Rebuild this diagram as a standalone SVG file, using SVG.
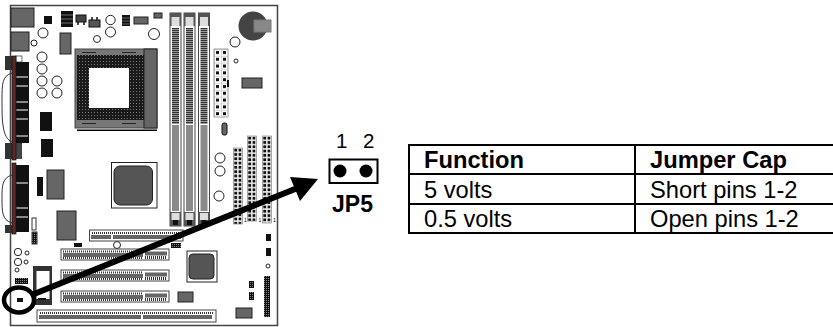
<svg xmlns="http://www.w3.org/2000/svg" width="833" height="327" viewBox="0 0 833 327">
<style>
text{font-family:"Liberation Sans",Arial,sans-serif;fill:#000}
.t{font-size:23.7px}
.b{font-weight:bold}
.g{fill:#666;stroke:#222;stroke-width:1}
.c{fill:#fff;stroke:#222;stroke-width:1}
.k{fill:#111}
.s{fill:#fff;stroke:#444;stroke-width:1}
.w{stroke:#fff;stroke-width:1}
</style>
<defs>
<pattern id="pins" width="3" height="3" patternUnits="userSpaceOnUse"><rect width="3" height="3" fill="#1a1a1a"/><rect x="1" y="1" width="1" height="1" fill="#777"/></pattern>
<pattern id="hdr" width="4.300" height="4.300" patternUnits="userSpaceOnUse"><rect width="4.300" height="4.300" fill="#e8e8e8"/><rect x=".8" y=".8" width="2.700" height="2.700" fill="#111"/></pattern>
<pattern id="atx" width="7" height="6.800" patternUnits="userSpaceOnUse"><rect width="7" height="6.800" fill="#fff"/><rect x="2" y="2" width="3" height="3" fill="#111"/><path d="M0 0H7M0 0V6.800" stroke="#999" stroke-width=".7"/></pattern>
<pattern id="tick" width="2" height="3" patternUnits="userSpaceOnUse"><rect width="2" height="3" fill="#fff"/><rect width="1" height="3" fill="#333"/></pattern>
<pattern id="dots" width="3" height="2" patternUnits="userSpaceOnUse"><rect width="3" height="2" fill="#999"/><rect width="3" height="1" fill="#333"/></pattern>
<pattern id="blk" width="2" height="2" patternUnits="userSpaceOnUse"><rect width="2" height="2" fill="#111"/><rect width="1" height="1" fill="#888"/></pattern>
<g id="dimm">
<rect x="0" y="13" width="11" height="213" class="s"/>
<rect x="0" y="13" width="11" height="13" fill="#555"/>
<rect x="1.500" y="17" width="8" height="9" fill="#ddd"/>
<rect x="2" y="28" width="7" height="96" fill="url(#dots)"/>
<rect x="2" y="125" width="7" height="86" fill="#8a8a8a"/>
<rect x="0" y="212" width="11" height="14" fill="#555"/>
<rect x="1.500" y="213" width="8" height="7" fill="#ddd"/>
<rect x="3" y="220" width="5" height="5" fill="#111"/>
</g>
<g id="pci">
<rect x="0" y="0" width="108" height="11" class="s"/>
<rect x="2" y="1.500" width="80" height="2" fill="url(#tick)"/>
<rect x="2" y="4" width="80" height="4" fill="#666"/>
<rect x="84" y="7" width="22" height="3" fill="url(#tick)"/>
<rect x="84" y="2.500" width="22" height="4" fill="#666"/>
<rect x="2" y="8" width="80" height="2" fill="url(#tick)"/>
</g>
</defs>
<g id="motherboard">
<path d="M10.500 5.500H277.500V325.500H10.500Z" fill="#fff" stroke="#444" stroke-width="1.500"/>
<rect x="11" y="8" width="23" height="19" class="g"/>
<rect x="11" y="32" width="18" height="19" class="g"/>
<rect x="44" y="16" width="8" height="8" class="k"/>
<rect x="61" y="11" width="12" height="16" fill="#111"/>
<path d="M61 15H73M61 19H73M61 23H73" stroke="#888" stroke-width=".8"/>
<rect x="76" y="15" width="10" height="7" fill="#444" stroke="#111"/>
<path d="M78 22V25M84 22V25" stroke="#111" stroke-width="1.500"/>
<rect x="89" y="20" width="11" height="7" fill="#555" stroke="#111"/>
<path d="M92 20V17M97 20V17" stroke="#111" stroke-width="1.500"/>
<circle cx="110.500" cy="20" r="4.700" class="c"/>
<circle cx="110.500" cy="32" r="5" class="c"/>
<rect x="122" y="15" width="8" height="11" fill="#111"/>
<path d="M122 18H130M122 21H130M122 24H130" stroke="#888" stroke-width=".7"/>
<rect x="134" y="17" width="14" height="7" class="g"/>
<rect x="154" y="13" width="8" height="5" class="g"/>
<circle cx="43" cy="33" r="5" class="c"/>
<circle cx="34" cy="43" r="3" class="c"/>
<rect x="60" y="33" width="11" height="21" class="g"/>
<circle cx="97" cy="39" r="3.500" class="c"/>
<circle cx="154" cy="34" r="5.500" class="c"/>
<rect x="75" y="49" width="82" height="79" fill="#777" stroke="#444"/>
<rect x="144" y="49" width="13" height="79" fill="#666" stroke="#222"/>
<rect x="77" y="55" width="67" height="65" fill="url(#pins)"/>
<rect x="89" y="68" width="40" height="40" fill="#fff"/>
<path d="M82 52.500H96M122 52.500H136M82 123.500H96M122 123.500H136" stroke="#222" stroke-width="1.200"/>
<path d="M77 130.300H157" stroke="#000" stroke-width="1.500"/>
<g id="parallel-port">
<path d="M12 73C2 76 2 84 2 100C2 120 2 138 12 142" fill="none" stroke="#333"/>
<rect x="5" y="56" width="7" height="14" fill="#333"/>
<rect x="5" y="143" width="7" height="16" fill="#333"/>
<rect x="16" y="56" width="6" height="6" fill="#fff" stroke="#333" stroke-width=".7"/>
<rect x="16" y="62" width="13" height="81" fill="#111"/>
<rect x="16" y="143" width="6" height="16" fill="#444"/>
<path d="M16 77H28M16 86H28M16 102H28M16 110H28M16 119H28M16 136H28" class="w"/>
<rect x="12" y="56" width="4" height="104" fill="#5a2a2a" stroke="#111" stroke-width=".7"/>
</g>
<g id="serial-port">
<path d="M12 175C2 178 2 186 2 198C2 212 2 220 12 223" fill="none" stroke="#333"/>
<rect x="5" y="225" width="7" height="8" fill="#333"/>
<rect x="16" y="165" width="13" height="67" fill="#111"/>
<path d="M16 183H28M16 208H28M16 217H28" class="w"/>
<rect x="12" y="163" width="4" height="71" fill="#5a2a2a" stroke="#111" stroke-width=".7"/>
</g>
<rect x="40" y="112" width="12" height="19" class="k"/>
<rect x="41" y="139" width="12" height="18" class="k"/>
<circle cx="42" cy="57" r="5" class="c"/>
<circle cx="42" cy="69" r="5" class="c"/>
<circle cx="42" cy="81" r="5" class="c"/>
<circle cx="42" cy="93" r="5" class="c"/>
<circle cx="57" cy="81" r="5" class="c"/>
<circle cx="57" cy="93" r="5" class="c"/>
<use href="#dimm" x="170"/>
<use href="#dimm" x="184"/>
<use href="#dimm" x="198.500"/>
<circle cx="253" cy="26" r="14.500" fill="#444"/>
<rect x="254" y="20" width="17" height="12" fill="#888" stroke="#777"/>
<circle cx="235" cy="42" r="5" class="c"/>
<circle cx="236" cy="61" r="2" class="c"/>
<rect transform="translate(214 49)" width="14" height="68" fill="url(#atx)" stroke="#777" stroke-width=".7"/>
<rect x="227" y="80" width="2" height="7" class="k"/>
<rect x="242" y="78" width="20" height="10" class="g"/>
<rect x="222" y="123" width="5" height="12" rx="2" fill="#666" stroke="#111"/>
<circle cx="220" cy="158" r="5" class="c"/>
<circle cx="220" cy="171" r="5" class="c"/>
<circle cx="219" cy="196" r="5" class="c"/>
<rect transform="translate(233.500 148)" width="9" height="76" fill="url(#hdr)" stroke="#888" stroke-width=".7"/>
<rect transform="translate(247.500 136)" width="9" height="85" fill="url(#hdr)" stroke="#888" stroke-width=".7"/>
<rect transform="translate(262.500 136)" width="9" height="87" fill="url(#hdr)" stroke="#888" stroke-width=".7"/>
<text x="244" y="222" font-size="5">1</text>
<text x="258.500" y="222" font-size="5">1</text>
<text x="273" y="222" font-size="5">1</text>
<rect x="111.500" y="162.500" width="45.500" height="45.500" fill="#fff" stroke="#222"/>
<rect x="114" y="166" width="38.500" height="39" rx="6" fill="#555" stroke="#222"/>
<rect x="37" y="177" width="6" height="19" class="k"/>
<rect x="47" y="170" width="17" height="29" class="g"/>
<rect x="57" y="211" width="19" height="29" class="g"/>
<rect x="32" y="218" width="4" height="12" fill="#fff" stroke="#333"/>
<rect x="32" y="232" width="5" height="12" fill="url(#blk)" stroke="#333"/>
<rect x="74" y="243" width="8" height="4" class="k"/>
<circle cx="117" cy="245" r="3.500" class="c"/>
<circle cx="18" cy="252" r="3.700" class="c"/>
<circle cx="27" cy="253" r="2" class="c"/>
<circle cx="18" cy="262" r="3.700" class="c"/>
<circle cx="26" cy="262" r="2" class="c"/>
<circle cx="17" cy="270" r="2" class="c"/>
<rect x="15" y="278" width="13" height="6" fill="url(#blk)"/>
<rect x="33" y="266" width="19" height="39" fill="#333"/>
<rect x="36.500" y="271" width="13" height="28" fill="#fff"/>
<rect x="38" y="298" width="8" height="2" fill="#111"/>
<rect x="17" y="298" width="6" height="4" class="k"/>
<rect x="89.500" y="230" width="93.500" height="11" class="s"/>
<rect x="91" y="232" width="90" height="2" fill="url(#tick)"/>
<rect x="91" y="235" width="20" height="4" fill="#666"/>
<rect x="113" y="235" width="68" height="4" fill="#666"/>
<use href="#pci" x="61" y="249"/>
<use href="#pci" x="61" y="270"/>
<use href="#pci" x="61" y="291"/>
<rect x="37" y="310" width="179" height="12" class="s"/>
<rect x="39" y="312" width="175" height="2" fill="url(#tick)"/>
<rect x="39" y="315" width="102" height="4" fill="#666"/>
<rect x="143" y="315" width="69" height="4" fill="#666"/>
<rect x="171" y="243" width="10" height="5" fill="url(#blk)"/>
<rect x="187" y="251" width="30" height="31" fill="#fff" stroke="#222"/>
<rect x="189" y="254" width="25" height="25" rx="4" fill="#555" stroke="#222"/>
<rect x="178" y="292" width="15" height="10" class="g"/>
<rect x="236" y="308" width="16" height="10" class="g"/>
<rect x="266" y="234" width="5" height="7" class="k"/>
<rect x="266" y="248" width="5" height="8" class="k"/>
<circle cx="268" cy="266" r="2" class="c"/>
<rect x="249" y="281" width="5" height="7" fill="url(#blk)"/>
<rect x="249" y="292" width="5" height="8" fill="url(#blk)"/>
<rect x="264" y="276" width="6" height="41" fill="url(#blk)"/>
</g>
<g id="connectors">
<ellipse cx="19" cy="300" rx="15" ry="12.500" fill="none" stroke="#000" stroke-width="4.500"/>
<path d="M34 294L300 187" fill="none" stroke="#000" stroke-width="6"/>
<path d="M318 179L290 177L300 201Z" fill="#000"/>
</g>
<g id="jp5">
<text x="336" y="148" font-size="20.500">1</text>
<text x="363" y="148" font-size="20.500">2</text>
<rect x="329.500" y="159.500" width="48" height="23.500" fill="#fff" stroke="#000" stroke-width="2"/>
<circle cx="340" cy="171" r="6.500"/>
<circle cx="366" cy="171" r="6.500"/>
<text x="332" y="212" font-size="23" class="b">JP5</text>
</g>
<g id="jumper-table">
<path d="M409 144V234M635 144V234M408 145H833M408 174H833M408 204H833M408 233H833" fill="none" stroke="#000" stroke-width="2"/>
<text x="424" y="168" class="t b">Function</text>
<text x="650" y="168" class="t b">Jumper Cap</text>
<text x="424" y="198" class="t">5 volts</text>
<text x="650" y="198" class="t">Short pins 1-2</text>
<text x="424" y="227" class="t">0.5 volts</text>
<text x="650" y="227" class="t">Open pins 1-2</text>
</g>
</svg>
